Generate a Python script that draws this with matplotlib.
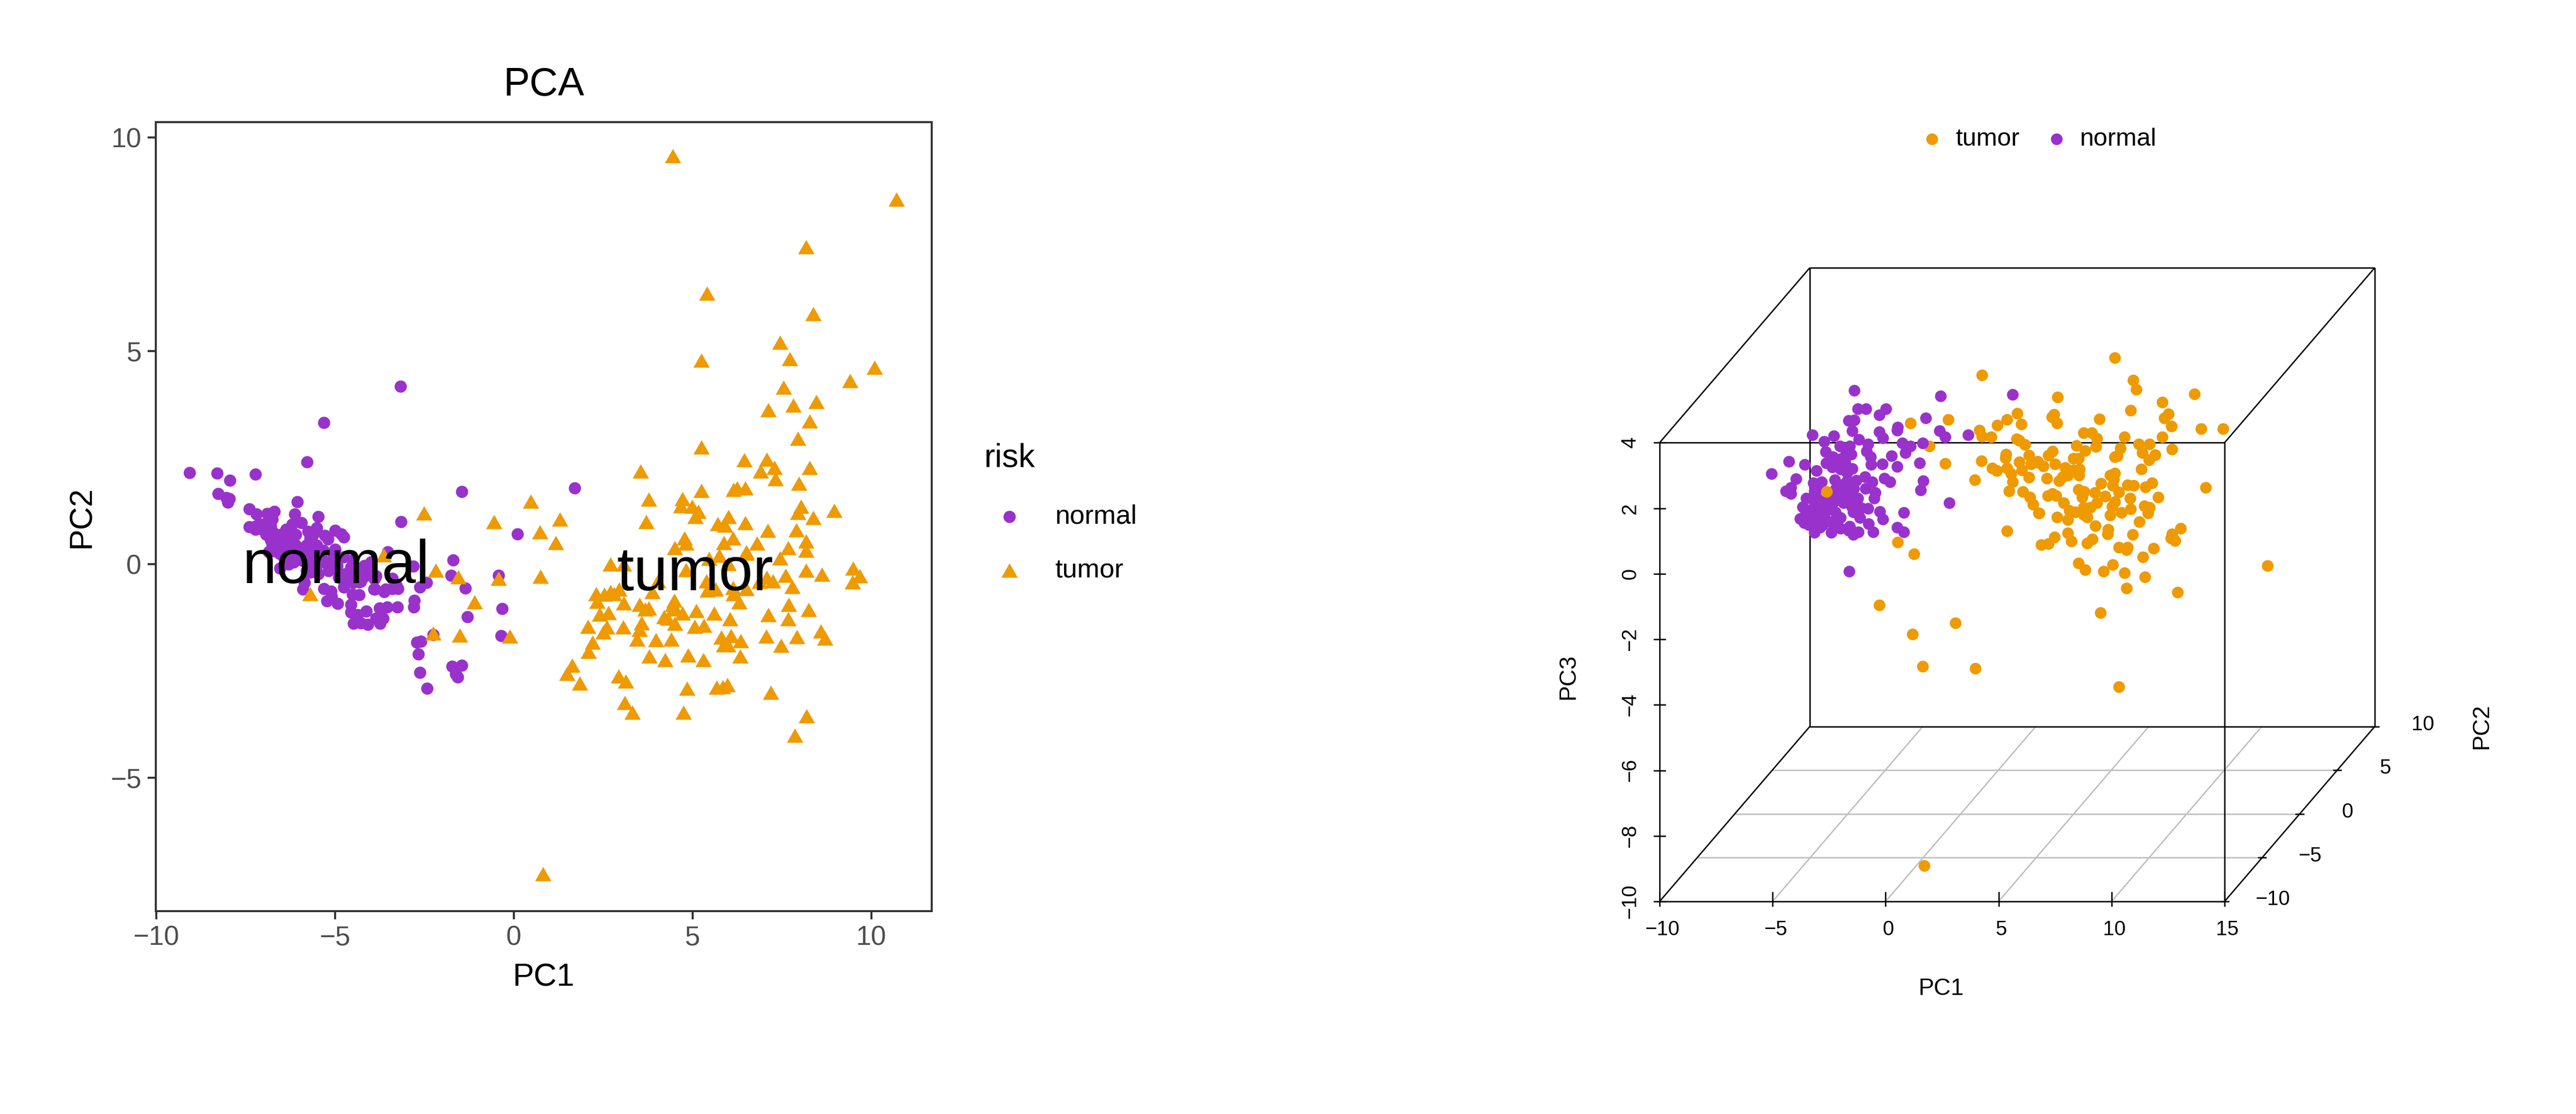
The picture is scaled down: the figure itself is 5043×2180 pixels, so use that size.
import matplotlib
matplotlib.use("Agg")
import matplotlib.pyplot as plt

plt.rcParams['font.family'] = ['Liberation Sans', 'DejaVu Sans']

W, H = 5043, 2180
PURPLE = '#9932CC'
ORANGE = '#EE9A00'
TRIANGLE = [(-1, -0.875), (1, -0.875), (0, 0.875)]

# left panel, PC1 / PC2
pc1_normal = [-9.07, -8.29, -7.94, -7.22, -5.78, -8.27, -8.04, -7.96, -8.0, -7.40, -7.19, -6.90, -6.70, -6.75,
              -6.05, -6.13, -5.47, -5.94, -6.2, -5.51, -7.39, -7.23, -7.04, -7.13, -6.8, -6.92, -6.71, -6.51,
              -6.37, -6.18, -6.66, -6.47, -6.28, -6.09, -6.71, -6.47, -6.18, -5.75, -5.7, -5.61, -5.28, -5.2,
              -5.0, -4.75, -4.83, -5.0, -5.32, -5.56, -5.8, -5.9, -6.18, -6.16, -6.54, -5.7, -5.37, -4.75,
              -5.04, -3.53, -5.18, -5.47, -5.7, -5.85, -5.89, -5.31, -5.11, -5.09, -5.23, -4.93, -4.75, -4.9,
              -4.56, -4.71, -4.18, -3.99, -3.85, -4.28, -3.39, -2.81, -3.91, -3.62, -3.4, -3.24, -2.62, -2.78,
              -2.8, -4.32, -4.51, -4.56, -4.55, -4.37, -4.13, -3.75, -3.54, -3.26, -3.66, -3.85, -4.48, -4.28,
              -4.08, -3.74, -2.71, -2.6, -2.67, -2.63, -2.42, -1.46, 1.71, -3.15, 0.10, -1.70, -1.75, -1.36,
              -0.42, -1.30, -0.32, -0.36, -2.26, -1.73, -1.45, -1.63, -1.57, -2.44, -3.17, -5.31,
              -6.4, -6.0, -5.8, -6.3, -5.5, -5.0, -4.4, -4.2, -4.5, -5.54, -4.63, -3.88, -3.58, -3.28, -4.33,
              -6.8, -6.66, -6.56, -6.42, -6.28, -6.09, -5.99, -6.18, -5.9, -5.61, -5.51, -5.65, -5.8, -5.42,
              -6.85, -6.75, -6.47, -6.37, -6.85, -6.66, -7.23, -7.04, -5.8, -5.51, -5.23, -4.94, -4.5, -4.75,
              -4.09, -3.9]
pc2_normal = [2.14, 2.13, 1.96, 2.11, 2.40, 1.65, 1.56, 1.53, 1.45, 1.29, 1.17, 1.19, 1.23, 1.05,
              1.46, 1.18, 1.11, 0.97, 0.93, 0.85, 0.87, 0.81, 0.81, 0.93, 0.89, 0.69, 0.73, 0.69,
              0.81, 0.73, 0.53, 0.53, 0.57, 0.69, 0.31, 0.33, 0.41, 0.77, 0.61, 0.69, 0.67, 0.59,
              0.79, 0.64, 0.71, 0.35, 0.33, 0.41, 0.45, 0.21, 0.13, 0.05, -0.09, 0.09, 0.13, 0.17,
              0.21, 0.29, -0.15, -0.23, -0.19, -0.43, -0.59, -0.57, -0.63, -0.75, -0.86, -0.92, -0.54, -0.31,
              -0.07, -0.23, -0.03, 0.05, -0.27, -0.41, -0.33, -0.05, -0.59, -0.64, -0.57, -0.57, -0.54, -0.85,
              -1.01, -0.72, -0.71, -0.95, -1.13, -1.19, -1.10, -1.03, -1.01, -1.01, -1.27, -1.27, -1.39, -1.37,
              -1.41, -1.39, -1.83, -1.81, -2.11, -2.54, -2.91, 1.70, 1.78, 1.0, 0.71, 0.10, -0.26, -0.56,
              -0.26, -1.23, -1.04, -1.68, -1.65, -2.39, -2.37, -2.57, -2.64, -0.43, 4.17, 3.32,
              0.4, 0.2, 0.3, 0.0, 0.0, -0.1, -0.2, -0.3, 0.1, -0.08, -0.33, -0.58, -0.58, -0.5, -0.42,
              0.57, 0.41, 0.25, 0.45, 0.25, 0.45, 0.29, 0.61, 0.09, 0.21, 0.45, 0.53, 0.21, 0.13,
              0.29, 0.45, 0.21, 0.61, 0.69, 0.61, 0.89, 0.93, -0.15, -0.03, 0.01, -0.03, -0.43, -0.39,
              -0.19, -0.35]

pc1_tumor = [4.45, 10.71, 8.18, 5.41, 8.38, 7.45, 7.72, 5.24, 10.09, 9.41, 7.54, 7.82, 8.46, 7.12, 8.27, 7.94,
             5.24, 6.44, 7.08, 7.29, 6.91, 8.27, 3.54, 7.32, 7.97, 5.24, 6.15, 6.25, 6.48, 3.78, 0.47, 4.72,
             -2.51, -0.56, 1.29, 0.73, 1.18, 0.75, -0.42, -1.55, -2.18, -3.64, -5.69, -1.09, -2.26, -1.51, -0.11,
             0.82, 3.71, 4.68, 4.99, 5.16, 5.07, 6.01, 5.7, 5.90, 6.48, 7.11, 4.77, 4.82, 4.5, 5.88, 6.13, 6.81,
             6.51, 5.75, 5.46, 6.01, 2.70, 3.08, 4.82, 5.39, 4.03, 5.42, 5.65, 6.13, 6.5, 6.15, 6.3, 6.87, 7.08,
             7.25, 2.3, 2.53, 2.71, 2.94, 2.8, 3.88, 2.33, 3.07, 3.52, 3.77, 3.68, 4.49, 4.44, 4.49, 4.72, 4.2,
             4.3, 4.51, 5.11, 5.61, 6.04, 7.12, 2.4, 2.64, 2.08, 2.61, 2.51, 3.06, 3.58, 3.52, 3.44, 5.06, 5.32,
             2.21, 2.09, 3.98, 4.41, 5.8, 6.07, 6.34, 5.87, 5.99, 7.06, 3.79, 4.23, 4.87, 5.3, 6.33, 1.63, 1.85,
             2.93, 3.13, 4.84, 5.68, 5.84, 5.98, 7.19, 3.1, 3.32, 4.74, 1.49, 8.03, 7.95, 8.37, 8.96, 7.91, 8.17,
             8.17, 7.67, 6.51, 7.44, 8.17, 8.62, 9.49, 9.68, 9.47, 7.61, 7.79, 7.69, 8.25, 7.67, 8.59, 8.71, 7.92,
             7.47, 8.19, 7.86]
pc2_tumor = [9.57, 8.55, 7.44, 6.35, 5.87, 5.20, 4.82, 4.78, 4.61, 4.30, 4.14, 3.72, 3.81, 3.62, 3.35, 2.95,
             2.74, 2.45, 2.46, 2.27, 2.18, 2.27, 2.18, 2.0, 1.89, 1.72, 1.75, 1.78, 1.78, 1.52, 1.47, 1.54,
             1.2, 1.0, 1.06, 0.75, 0.51, -0.29, -0.33, -0.30, -0.14, 0.22, -0.69, -0.88, -1.62, -1.66, -1.69,
             -7.26, 1.0, 1.37, 1.35, 1.23, 1.11, 1.12, 0.95, 0.91, 0.97, 0.79, 0.61, 0.49, 0.38, 0.5, 0.61, 0.49,
             0.29, 0.21, 0.13, 0.01, 0.0, 0.0, -0.13, -0.39, -0.39, -0.61, -0.59, -0.55, -0.57, -0.69, -0.89, -0.41, -0.31,
             -0.39, -0.69, -0.71, -0.65, -0.58, -0.69, -0.65, -0.87, -0.91, -0.95, -1.03, -1.05, -0.85, -0.95, -1.05, -1.15, -1.23,
             -1.27, -1.39, -1.09, -1.15, -1.28, -1.19, -1.17, -1.14, -1.46, -1.47, -1.59, -1.47, -1.37, -1.53, -1.76, -1.46, -1.44,
             -1.83, -2.05, -1.77, -1.76, -1.71, -1.68, -1.8, -1.89, -1.89, -1.69, -2.15, -2.24, -2.13, -2.24, -2.15, -2.37, -2.79,
             -2.62, -2.74, -2.91, -2.89, -2.87, -2.83, -3.01, -3.25, -3.47, -3.47, -2.56, 1.35, 1.21, 1.09, 1.26, 0.8, 0.54,
             0.33, 0.38, 0.25, 0.14, -0.14, -0.24, -0.09, -0.27, -0.42, -0.26, -0.53, -0.95, -1.07, -1.28, -1.57, -1.73, -1.70,
             -1.90, -3.56, -4.01]

# right panel, positions on the PC1 / PC3 scales as drawn (depth already in them)
screen_pc1_normal = [-1.38, 2.43, 5.63, -1.23, -0.87, 0.01, -0.28, -1.64, -1.38, 1.77, 0.54, 0.51, -1.48, -0.29, -0.12,
                     2.39, 2.64, 3.66, -3.25, -2.29, -2.73, -1.18, -0.78, 0.74, 1.1, 1.63, 0.87, 0.26, -2.02, -1.59,
                     -2.65, -1.53, -1.76, -0.84, -0.66, -2.34, -2.62, -1.99, -2.37, -0.64, -0.14, 0.5, 1.5, -1.47,
                     -4.27, -3.57, -3.06, -5.05, -3.97, -1.7, -1.7, -0.92, -0.6, -0.05, 0.2, 1.67, 1.54, -4.2, -4.41,
                     -4.18, -3.2, -2.83, -2.24, -3.14, -1.87, -1.41, -0.89, -0.47, -0.51, -1.24, 2.82, -3.51, -3.03,
                     -2.45, -1.87, -3.66, -3.14, -2.57, -3.78, -3.6, -3.14, -2.68, -2.22, -1.99, -3.03, -2.45, -3.14,
                     -2.91, -2.4, -1.99, -1.44, -1.07, -0.78, -1.15, -0.75, -0.55, -1.59, -1.2, -1.44, -1.64, -0.26,
                     -0.12, 0.81, 0.51, 0.8, -1.62,
                     -3.6, -3.3, -3.0, -2.7, -2.4, -2.1, -3.4, -2.8, -2.2, -3.3, -2.8, -2.3, -2.0, -1.7, -1.5, -3.0,
                     -2.2, -1.8, -1.3, -2.0, -1.8, -2.2, -1.65, -3.45]
screen_pc3_normal = [5.60, 5.42, 5.47, 5.04, 5.04, 5.04, 4.85, 4.68, 4.69, 4.75, 4.47, 4.38, 4.37, 4.33, 4.15,
                     4.37, 4.17, 4.24, 4.24, 4.2, 4.04, 4.1, 3.96, 3.99, 3.9, 3.99, 3.7, 3.6, 3.89, 3.89,
                     3.73, 3.65, 3.68, 3.74, 3.56, 3.56, 3.38, 3.5, 3.26, 3.34, 3.35, 3.27, 3.38, 3.21,
                     3.43, 3.34, 3.15, 3.05, 2.9, 3.08, 2.84, 2.96, 2.81, 2.92, 2.8, 2.84, 2.56, 2.63, 2.53,
                     2.45, 2.77, 2.81, 2.86, 2.52, 2.57, 2.6, 2.6, 2.48, 2.3, 2.3, 2.17, 2.3, 2.3,
                     2.37, 2.16, 2.04, 2.07, 2.13, 1.68, 1.56, 1.83, 1.89, 1.89, 1.71, 1.59, 1.59, 1.26,
                     1.41, 1.26, 1.38, 1.89, 2.01, 1.99, 1.71, 1.52, 1.28, 1.44, 1.27, 1.2, 1.32, 1.9,
                     1.67, 1.87, 1.41, 1.27, 0.08,
                     2.0, 1.7, 2.0, 1.7, 2.0, 1.75, 1.5, 1.5, 1.5, 2.3, 2.2, 2.2, 2.35, 2.2, 2.05, 2.6,
                     2.6, 2.75, 2.85, 3.2, 3.4, 3.45, 2.4, 1.9]

screen_pc1_tumor = [4.27, 1.09, 2.76, 1.93, 2.64, 4.24, 3.94, 0.53, 1.25, 5.37, -0.29, 3.08, 1.19, 1.65, 3.96, 1.72,
                    4.15, 4.27, 4.68, 4.95, 5.38, 5.83, 6.01, 5.8, 5.91, 6.16, 5.33, 5.3, 4.72, 4.91, 5.37, 5.91,
                    6.34, 6.43, 6.75, 5.56, 6.03, 6.34, 5.62, 5.47, 6.08, 6.39, 6.52, 6.78,
                    10.14, 10.96, 11.1, 7.6, 13.66, 12.24, 12.51, 12.34, 12.64, 10.85, 9.46, 7.46, 7.35, 7.58, 13.97,
                    14.93, 8.76, 9.13, 9.34, 9.31, 10.56, 12.24, 11.2, 11.67, 12.68, 8.44, 8.82, 7.39, 7.2, 10.4,
                    10.26, 10.14, 11.36, 11.93, 11.65, 11.31, 8.3, 8.53, 6.73, 7.49, 6.97, 7.95, 8.59, 8.3, 8.56,
                    8.07, 7.84, 7.68, 7.13, 9.94, 10.14, 10.09, 9.53, 10.05, 10.7, 10.97, 11.49, 11.79, 12.06, 14.16,
                    8.53, 8.78, 8.7, 9.25, 9.72, 10.32, 9.34, 7.18, 7.38, 7.55, 7.87, 10.81, 10.14, 10.03, 11.45,
                    11.68, 10.85, 8.76, 9.05, 8.13, 8.39, 8.76, 8.93, 11.6, 10.43, 9.94, 7.58, 8.07, 6.8, 11.22,
                    9.27, 9.84, 9.82, 10.93, 8.05, 7.47, 13.05, 12.68, 12.62, 12.8, 9.14, 8.93, 8.21, 6.89, 7.2,
                    10.31, 10.7, 10.66, 11.85, 11.39, 8.54, 8.84, 10.05, 9.65, 10.56, 11.47, 10.65, 12.91, 9.51,
                    16.89, 10.32]
screen_pc3_tumor = [6.07, 4.59, 4.7, 3.9, 3.36, 3.44, 2.87, 0.96, 0.6, 1.31, -0.96, -1.5, -1.85, -2.83, -2.89, -8.91,
                    4.38, 4.19, 4.18, 4.53, 4.71, 4.9, 4.56, 4.12, 4.07, 3.94, 3.64, 3.53, 3.23, 3.15, 3.23, 3.41,
                    3.62, 3.35, 3.39, 3.05, 3.17, 2.95, 2.8, 2.53, 2.5, 2.34, 2.11, 1.86,
                    6.6, 5.91, 5.63, 5.4, 5.49, 5.24, 4.88, 4.76, 4.5, 4.99, 4.72, 4.86, 4.79, 4.6, 4.42,
                    4.43, 4.3, 4.3, 4.13, 3.88, 4.17, 4.17, 3.96, 3.95, 3.8, 3.91, 3.75, 3.74, 3.61, 3.83,
                    3.6, 3.56, 3.7, 3.63, 3.47, 3.2, 3.52, 3.52, 3.42, 3.35, 3.28, 3.24, 3.2, 3.16, 3.0,
                    3.0, 2.96, 2.83, 2.92, 3.0, 3.07, 2.88, 2.76, 2.69, 2.71, 2.69, 2.64, 2.78, 2.34, 2.63,
                    2.57, 2.51, 2.33, 2.47, 2.37, 2.49, 2.17, 2.38, 2.45, 2.39, 2.17, 2.3, 2.19, 2.06, 2.07,
                    2.03, 1.97, 2.03, 2.03, 1.93, 1.89, 1.81, 1.73, 1.85, 1.87, 1.79, 1.72, 1.65, 1.85, 1.59,
                    1.46, 1.36, 1.21, 1.19, 1.24, 1.12, 1.39, 1.21, 1.09, 1.01, 1.05, 0.93, 1.0, 0.89, 0.91,
                    0.8, 0.81, 0.73, 0.78, 0.51, 0.32, 0.12, 0.27, 0.07, 0.03, -0.09, -0.44, -0.56, -1.19,
                    0.24, -3.45]
# this one sits on top of the purple cloud
screen_pc1_front = [-2.6]
screen_pc3_front = [2.5]

pc1_ticks = [-10, -5, 0, 5, 10, 15]
pc2_ticks = [-10, -5, 0, 5, 10]
pc3_ticks = [-10, -8, -6, -4, -2, 0, 2, 4]

fig = plt.figure(figsize=(W / 300, H / 300), dpi=300)

# ---- left panel
ax = fig.add_axes([305 / W, (H - 1783) / H, 1519 / W, 1544 / H])
normal = ax.scatter(pc1_normal, pc2_normal, s=33, c=PURPLE, linewidths=0, zorder=2)
tumor = ax.scatter(pc1_tumor, pc2_tumor, s=59, c=ORANGE, marker=TRIANGLE, linewidths=0, zorder=3)
ax.set_xlim(-10.01, 11.69)
ax.set_ylim(-8.13, 10.36)
ax.set_xticks([-10, -5, 0, 5, 10])
ax.set_yticks([-5, 0, 5, 10])
ax.tick_params(length=3.9, width=0.95, color='#333333', labelcolor='#4D4D4D', labelsize=12.8, pad=2.8)
for s in ax.spines.values():
    s.set_linewidth(0.95)
    s.set_color('#333333')
ax.set_xlabel('PC1', fontsize=15, labelpad=5.5)
ax.set_ylabel('PC2', fontsize=15, labelpad=6.5)
ax.set_title('PCA', fontsize=18.5, pad=12.5)
ax.text(-4.97, -0.44, 'normal', fontsize=28.8, ha='center', va='baseline', zorder=5)
ax.text(5.07, -0.61, 'tumor', fontsize=28.8, ha='center', va='baseline', zorder=5)

leg = fig.legend([normal, tumor], ['normal', 'tumor'], title='risk', loc='upper left',
                 bbox_to_anchor=(1927 / W, (H - 866) / H), frameon=False, alignment='left',
                 fontsize=12.6, title_fontsize=15.4, borderpad=0, borderaxespad=0,
                 handlelength=1.87, handletextpad=0.76, labelspacing=1.08)
leg._legend_box.sep = 14.5

# ---- right panel, scatterplot3d style box on plain 2D axes
DEPTH_X = 294 / 44.24
DEPTH_Z = 342 / 64.07


def project(pc1, pc2, pc3):
    f = (pc2 + 10) / 20
    return pc1 + f * DEPTH_X, pc3 + f * DEPTH_Z


def seg(a, b, **kw):
    xa, za = project(*a)
    xb, zb = project(*b)
    kw.setdefault('color', 'black')
    kw.setdefault('lw', 0.65)
    ax3.plot([xa, xb], [za, zb], solid_capstyle='butt', clip_on=False, **kw)


ax3 = fig.add_axes([3249 / W, (H - 1764) / H, 1400 / W, 1240 / H])
ax3.set_xlim(-10, 15 + DEPTH_X)
ax3.set_ylim(-10, 4 + DEPTH_Z)
ax3.axis('off')

# floor grid
for v in pc1_ticks[1:-1]:
    seg((v, -10, -10), (v, 10, -10), color='#BEBEBE', zorder=1)
for v in pc2_ticks[1:-1]:
    seg((-10, v, -10), (15, v, -10), color='#BEBEBE', zorder=1)

# box edges
for y in (-10, 10):
    seg((-10, y, -10), (15, y, -10))
    seg((-10, y, 4), (15, y, 4))
    seg((-10, y, -10), (-10, y, 4))
    seg((15, y, -10), (15, y, 4))
seg((-10, -10, -10), (-10, 10, -10))
seg((15, -10, -10), (15, 10, -10))
seg((-10, -10, 4), (-10, 10, 4))
seg((15, -10, 4), (15, 10, 4))

# ticks and their labels
for v in pc1_ticks:
    seg((v, -10, -10.16), (v, -10, -9.7))
    ax3.text(v + 0.12, -10.85, str(v).replace('-', '\u2212'), fontsize=9.6, ha='center', va='center')
for v in pc3_ticks:
    seg((-10.27, -10, v), (-9.73, -10, v))
    ax3.text(-11.31, v, str(v).replace('-', '\u2212'), fontsize=9.6, rotation=90, ha='center', va='center')
for v in pc2_ticks:
    x, z = project(15, v, -10)
    ax3.plot([x - 0.2, x + 0.2], [z, z], color='black', lw=0.65, solid_capstyle='butt', clip_on=False)
    ax3.text(x + 2.12, z + 0.06, str(v).replace('-', '\u2212'), fontsize=9.6, ha='center', va='center')

tumor3 = ax3.scatter(screen_pc1_tumor, screen_pc3_tumor, s=30, c=ORANGE, linewidths=0, zorder=3, clip_on=False)
normal3 = ax3.scatter(screen_pc1_normal, screen_pc3_normal, s=30, c=PURPLE, linewidths=0, zorder=4, clip_on=False)
ax3.scatter(screen_pc1_front, screen_pc3_front, s=30, c=ORANGE, linewidths=0, zorder=5)

ax3.text(2.46, -12.66, 'PC1', fontsize=11, ha='center', va='center')
ax3.text(26.38, -4.65, 'PC2', fontsize=11, rotation=90, ha='center', va='center')
ax3.text(-14.04, -3.15, 'PC3', fontsize=11, rotation=90, ha='center', va='center')

fig.legend([tumor3, normal3], ['tumor', 'normal'], loc='upper left', ncol=2,
           bbox_to_anchor=(3757 / W, (H - 250) / H), frameon=False, fontsize=11.8,
           borderpad=0, borderaxespad=0, handlelength=1.0, handletextpad=0.44, columnspacing=0.97)

fig.savefig('out.png', dpi=300)
